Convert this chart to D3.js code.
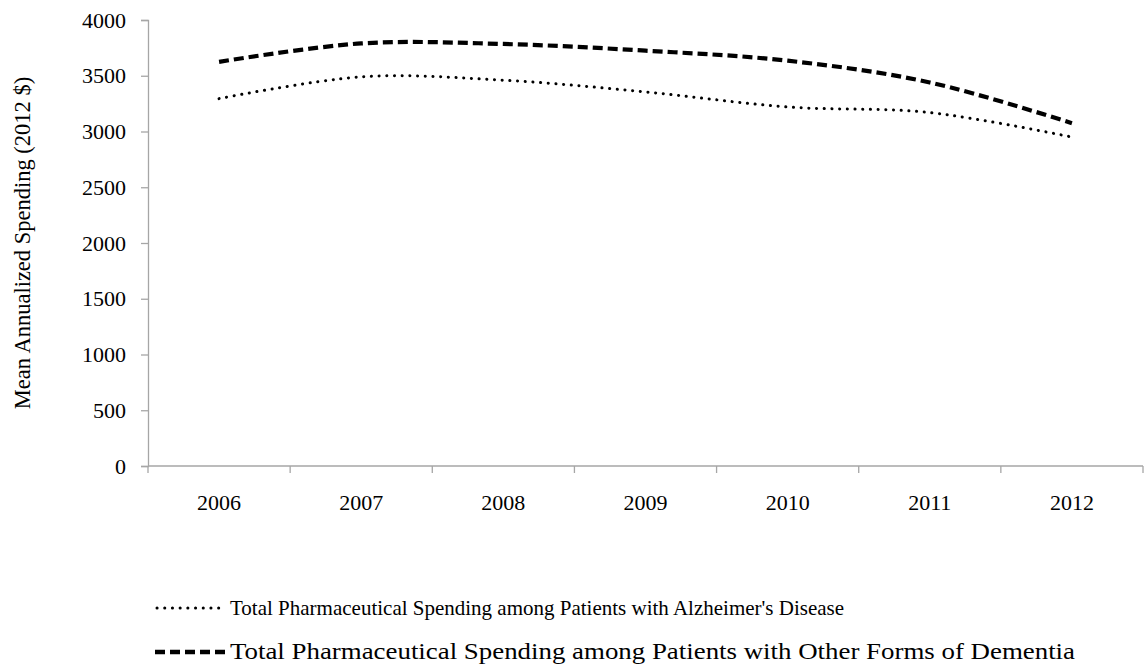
<!DOCTYPE html>
<html>
<head>
<meta charset="utf-8">
<script src="https://cdn.jsdelivr.net/npm/d3@7"></script>
</head>
<body style="margin:0; background:#fff">
<div id="chart"></div>
<script>
let years = ['2006', '2007', '2008', '2009', '2010', '2011', '2012']
let alzheimers = [3295, 3490, 3460, 3355, 3220, 3170, 2950]
let otherDementia = [3625, 3790, 3785, 3725, 3635, 3440, 3075]
let yTicks = [0, 500, 1000, 1500, 2000, 2500, 3000, 3500, 4000]
let seriesNames = [
  "Total Pharmaceutical Spending among Patients with Alzheimer's Disease",
  'Total Pharmaceutical Spending among Patients with Other Forms of Dementia'
]

let serif = "'Liberation Serif'"

let margin = { top: 20, left: 148, right: 2, bottom: 199 }
let width = 1145 - margin.left - margin.right
let height = 665 - margin.top - margin.bottom

let svg = d3
  .select('#chart')
  .append('svg')
  .attr('width', 1145)
  .attr('height', 665)
  .append('g')
  .attr('transform', 'translate(' + margin.left + ',' + margin.top + ')')

let xScale = d3.scaleBand().domain(years).range([0, width])
let yScale = d3.scaleLinear().domain([0, 4000]).range([height, 0])

let axisColor = '#a6a6a6'

// y axis
let yAxis = svg
  .append('g')
  .call(
    d3.axisLeft(yScale)
      .tickValues(yTicks)
      .tickFormat(d3.format('d'))
      .tickSize(7)
      .tickPadding(15)
  )
yAxis.select('.domain').attr('stroke', axisColor).attr('stroke-width', 1.3)
yAxis.selectAll('.tick line').attr('stroke', axisColor).attr('stroke-width', 1.3)
yAxis
  .selectAll('.tick text')
  .style('font-family', serif)
  .style('font-size', '22px')
  .attr('fill', '#000')

// x axis with ticks on band boundaries
let xAxis = svg.append('g').attr('transform', 'translate(0,' + height + ')')
xAxis
  .append('line')
  .attr('x1', 0)
  .attr('x2', width)
  .attr('stroke', axisColor)
  .attr('stroke-width', 1.3)
let bounds = years.map(d => xScale(d)).concat([width])
xAxis
  .selectAll('.xtick')
  .data(bounds)
  .enter()
  .append('line')
  .attr('x1', d => d)
  .attr('x2', d => d)
  .attr('y1', 0)
  .attr('y2', 7)
  .attr('stroke', axisColor)
  .attr('stroke-width', 1.3)
xAxis
  .selectAll('.xlabel')
  .data(years)
  .enter()
  .append('text')
  .attr('x', d => xScale(d) + xScale.bandwidth() / 2)
  .attr('y', 44)
  .attr('text-anchor', 'middle')
  .style('font-family', serif)
  .style('font-size', '22px')
  .text(d => d)

// y label
svg
  .append('text')
  .attr('transform', 'translate(' + (-118) + ',' + (height / 2) + ') rotate(-90)')
  .attr('text-anchor', 'middle')
  .style('font-family', serif)
  .style('font-size', '22.5px')
  .text('Mean Annualized Spending (2012 $)')

let line = d3
  .line()
  .x((d, i) => xScale(years[i]) + xScale.bandwidth() / 2)
  .y(d => yScale(d))
  .curve(d3.curveCardinal.tension(0))

let styles = [
  { width: 3, dash: '0.1,7.6', cap: 'round' },
  { width: 4.2, dash: '10,5', cap: 'butt' }
]

svg
  .append('path')
  .datum(alzheimers)
  .attr('d', line)
  .attr('fill', 'none')
  .attr('stroke', 'black')
  .attr('stroke-width', styles[0].width)
  .attr('stroke-dasharray', styles[0].dash)
  .attr('stroke-linecap', styles[0].cap)

svg
  .append('path')
  .datum(otherDementia)
  .attr('d', line)
  .attr('fill', 'none')
  .attr('stroke', 'black')
  .attr('stroke-width', styles[1].width)
  .attr('stroke-dasharray', styles[1].dash)
  .attr('stroke-linecap', styles[1].cap)

// legend (second entry is stretched wider in the original)
let legendFont = ['21px', '22.5px']
let legendRows = [608, 652]

let items = svg
  .append('g')
  .attr('transform', 'translate(' + (155 - margin.left) + ',' + (-margin.top) + ')')
  .selectAll('.legend-item')
  .data(seriesNames)
  .enter()
  .append('g')
  .attr('transform', (d, i) => 'translate(0,' + legendRows[i] + ')')

items
  .append('line')
  .attr('x1', (d, i) => (i === 0 ? 2 : 0))
  .attr('x2', 70)
  .attr('stroke', 'black')
  .attr('stroke-width', (d, i) => (i === 0 ? styles[0].width : 4.4))
  .attr('stroke-dasharray', (d, i) => styles[i].dash)
  .attr('stroke-linecap', (d, i) => styles[i].cap)

items
  .append('text')
  .attr('x', 75)
  .attr('y', 7)
  .style('font-family', serif)
  .style('font-size', (d, i) => legendFont[i])
  .each(function (d, i) {
    if (i === 1) {
      d3.select(this).attr('textLength', 845).attr('lengthAdjust', 'spacingAndGlyphs')
    }
  })
  .text(d => d)
</script>
</body>
</html>
